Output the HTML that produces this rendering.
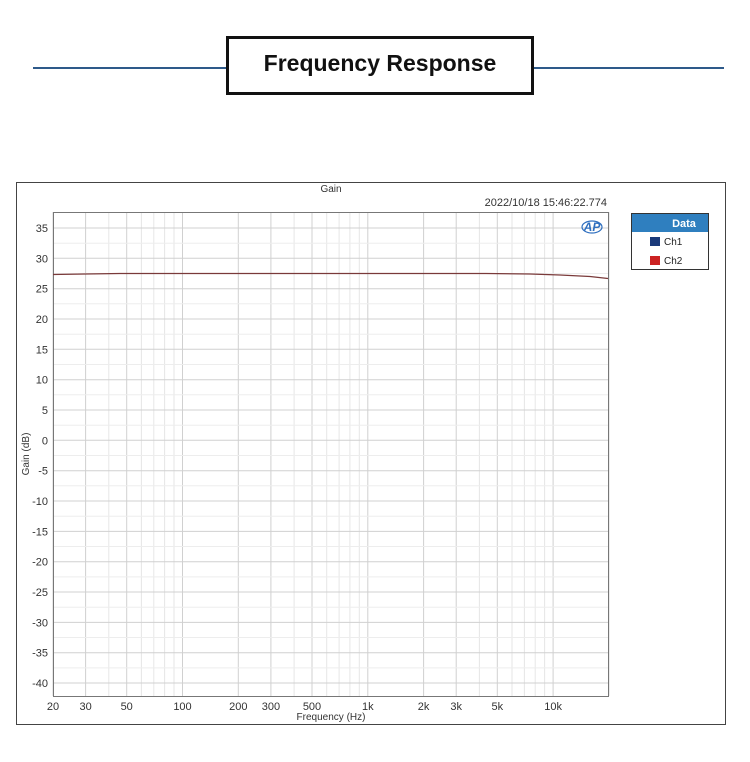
<!DOCTYPE html>
<html><head><meta charset="utf-8"><style>
body{margin:0;background:#fff;width:750px;height:757px;overflow:hidden;font-family:"Liberation Sans",sans-serif}
</style></head><body>
<svg id="s" width="750" height="757" xmlns="http://www.w3.org/2000/svg" font-family="Liberation Sans, sans-serif">
<line x1="33" y1="68" x2="227" y2="68" stroke="#2e5a8a" stroke-width="2"/>
<line x1="533" y1="68" x2="724" y2="68" stroke="#2e5a8a" stroke-width="2"/>
<rect x="227.5" y="37.5" width="305" height="56" fill="#fff" stroke="#111" stroke-width="3"/>
<text x="380" y="71" text-anchor="middle" font-size="23" font-weight="bold" fill="#111">Frequency Response</text>
<rect x="16.5" y="182.5" width="709" height="542" fill="#fff" stroke="#444" stroke-width="1"/>
<text x="331" y="192" text-anchor="middle" font-size="10" fill="#333">Gain</text>
<text x="607" y="206" text-anchor="end" font-size="11" fill="#333">2022/10/18 15:46:22.774</text>
<g id="grid"></g>
<rect x="53.5" y="212.5" width="555" height="484" fill="none" stroke="#777"/>
<text x="592" y="231" text-anchor="middle" font-size="12" font-weight="bold" font-style="italic" fill="#2f6fbf">AP</text>
<ellipse cx="592" cy="227" rx="10" ry="6" fill="none" stroke="#2f6fbf" stroke-width="1.2"/>
<polyline fill="none" stroke="#7a3a3a" stroke-width="1.2" points="53,274.5 85,274 120,273.5 300,273.5 486,273.5 530,274 560,275 590,276.5 608,278.5"/>
<text transform="translate(29,454) rotate(-90)" text-anchor="middle" font-size="10" fill="#333">Gain (dB)</text>
<text x="331" y="720" text-anchor="middle" font-size="10" fill="#333">Frequency (Hz)</text>
<rect x="631.5" y="213.5" width="77" height="56" fill="#fff" stroke="#333"/>
<rect x="632" y="214" width="76" height="18" fill="#2f7fbf"/>
<text x="684" y="227" text-anchor="middle" font-size="11" font-weight="bold" fill="#fff">Data</text>
<rect x="650" y="237" width="10" height="9" fill="#1a3a7a"/>
<text x="664" y="245" font-size="10" fill="#222">Ch1</text>
<rect x="650" y="256" width="10" height="9" fill="#cc2222"/>
<text x="664" y="264" font-size="10" fill="#222">Ch2</text>
</svg>
<script>
var g=document.getElementById('grid'),h='';
function X(f){return 53+185.3*Math.log10(f/20);}
function Y(d){return 228+(35-d)*6.067;}
var lbl={20:'20',30:'30',50:'50',100:'100',200:'200',300:'300',500:'500',1000:'1k',2000:'2k',3000:'3k',5000:'5k',10000:'10k'};
[10,100,1000,10000].forEach(function(dec){for(var m=1;m<10;m++){var f=dec*m;if(f<20||f>20000)continue;var x=X(f).toFixed(1);
var major=(m==1||m==2||m==3||m==5);
h+='<line x1="'+x+'" y1="212" x2="'+x+'" y2="696" stroke="'+(major?'#d0d0d0':'#e6e6e6')+'" stroke-width="1"/>';
if(lbl[f])h+='<text x="'+x+'" y="710" text-anchor="middle" font-size="11" fill="#333">'+lbl[f]+'</text>';}});
for(var d=35;d>=-40;d-=5){var y=Y(d).toFixed(1);h+='<line x1="53" y1="'+y+'" x2="608" y2="'+y+'" stroke="#d0d0d0"/>';
h+='<text x="48" y="'+(Y(d)+4).toFixed(1)+'" text-anchor="end" font-size="11" fill="#333">'+d+'</text>';}
for(var d=32.5;d>=-40;d-=5){var y=Y(d).toFixed(1);h+='<line x1="53" y1="'+y+'" x2="608" y2="'+y+'" stroke="#ededed"/>';}
g.innerHTML=h;
</script>
</body></html>
